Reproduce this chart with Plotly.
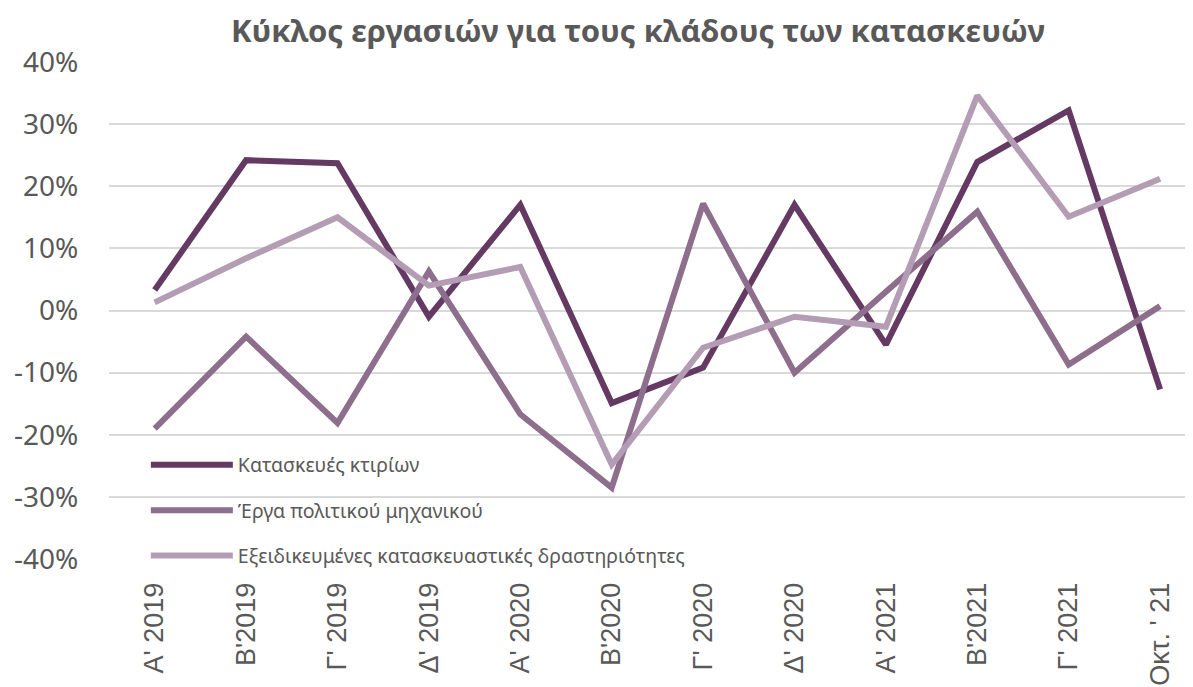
import plotly.graph_objects as go

categories = ["Α' 2019", "Β'2019", "Γ' 2019", "Δ' 2019", "Α' 2020", "Β'2020",
              "Γ' 2020", "Δ' 2020", "Α' 2021", "Β'2021", "Γ' 2021", "Οκτ. ' 21"]

buildings = [3.3, 24.2, 23.7, -1.0, 17.0, -14.9, -9.2, 17.0, -5.5, 23.9, 32.2, -12.7]
civil_eng = [-19.0, -4.2, -18.1, 6.3, -16.7, -28.5, 17.2, -10.0, 3.0, 15.9, -8.7, 0.7]
specialised = [1.3, 8.4, 15.0, 4.0, 7.0, -24.8, -6.0, -1.0, -2.6, 34.6, 15.1, 21.2]

names = ["Κατασκευές κτιρίων", "Έργα πολιτικού μηχανικού",
         "Εξειδικευμένες κατασκευαστικές δραστηριότητες"]
colors = ["#643962", "#8D6E8C", "#B49DB4"]
series = [buildings, civil_eng, specialised]
yticks = [-40, -30, -20, -10, 0, 10, 20, 30, 40]

fig = go.Figure()
for i, (nm, col, vals) in enumerate(zip(names, colors, series)):
    fig.add_trace(go.Scatter(
        x=list(range(len(categories))), y=vals, name=nm, mode="lines",
        line=dict(color=col, width=6), legendgroup=f"g{i}"))

# page body has an 8px margin, so the figure is sized/offset to compensate
fig.update_layout(
    width=1185, height=679,
    margin=dict(l=101, r=0, t=54, b=128),
    plot_bgcolor="white", paper_bgcolor="white",
    title=dict(text="<b>Κύκλος εργασιών για τους κλάδους των κατασκευών</b>",
               x=0.5316, xref="container", xanchor="center",
               y=1 - 23 / 679, yref="container", yanchor="middle",
               font=dict(family="Noto Sans", size=31, color="#595959")),
    legend=dict(x=0.034, y=0.228, xanchor="left", yanchor="top",
                bgcolor="rgba(0,0,0,0)", traceorder="grouped",
                tracegroupgap=17, itemwidth=82,
                font=dict(family="Noto Sans", size=19.5, color="#595959")),
    showlegend=True,
)
fig.update_xaxes(
    range=[-0.5, 11.36], tickmode="array",
    tickvals=list(range(len(categories))), ticktext=categories,
    tickangle=-90, showgrid=False, zeroline=False, showline=False,
    ticks="outside", ticklen=12, tickcolor="rgba(0,0,0,0)",
    tickfont=dict(family="Liberation Sans", size=27, color="#595959"))
fig.update_yaxes(
    range=[-40, 40], tickmode="array", tickvals=yticks,
    ticktext=[f"{v}%" for v in yticks],
    showgrid=True, gridcolor="#D9D9D9", gridwidth=1.5,
    zeroline=False, showline=False,
    ticks="outside", ticklen=24, tickcolor="rgba(0,0,0,0)",
    tickfont=dict(family="Noto Sans", size=28, color="#595959"))

fig.write_html("out.html")
